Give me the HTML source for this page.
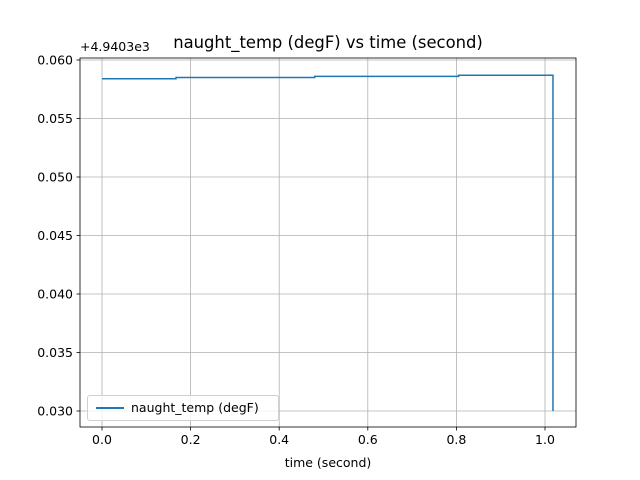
<!DOCTYPE html>
<html><head><meta charset="utf-8"><style>body{margin:0;background:#fff}svg{display:block;font-family:"DejaVu Sans","Liberation Sans",sans-serif}</style></head>
<body>
<svg id="c" width="640" height="480"></svg>
<script>
const xTicks=[0.0,0.2,0.4,0.6,0.8,1.0];
const xTickLabels=["0.0","0.2","0.4","0.6","0.8","1.0"];
const yTicks=[0.030,0.035,0.040,0.045,0.050,0.055,0.060];
const yTickLabels=["0.030","0.035","0.040","0.045","0.050","0.055","0.060"];
const times=[0,0.167,0.48,0.805,1.018,1.018];
const temps=[0.0584,0.0585,0.0586,0.0587,0.0587,0.030];
const NS="http://www.w3.org/2000/svg";
const svg=document.getElementById('c');
const L=80,R=576,T=58,B=427;
const xs=v=>102+v*443;
const ys=v=>60+(0.060-v)*11700;
function mk(t,a,p){const e=document.createElementNS(NS,t);for(const k in a)e.setAttribute(k,a[k]);(p||svg).appendChild(e);return e;}
mk('rect',{x:0,y:0,width:640,height:480,fill:'#fff'});
const grid=mk('g',{});


xTicks.forEach((v,i)=>{const x=xs(v);
 mk('line',{x1:x,x2:x,y1:T,y2:B,stroke:'#b0b0b0','stroke-width':0.8},grid);
 mk('line',{x1:x,x2:x,y1:B,y2:B+3.5,stroke:'#000','stroke-width':0.8});
 const t=mk('text',{x:x,y:B+17,'font-size':12.5,'text-anchor':'middle'});t.textContent=xTickLabels[i];
 
 });
yTicks.forEach((v,i)=>{const y=ys(v);
 mk('line',{x1:L,x2:R,y1:y,y2:y,stroke:'#b0b0b0','stroke-width':0.8},grid);
 mk('line',{x1:L-3.5,x2:L,y1:y,y2:y,stroke:'#000','stroke-width':0.8});
 const t=mk('text',{x:L-7,y:y+4.5,'font-size':12.5,'text-anchor':'end'});t.textContent=yTickLabels[i];
 
 });
let d='';
for(let i=0;i<times.length;i++){
 if(i===0)d+='M'+xs(times[0])+','+ys(temps[0]);
 else d+=' L'+xs(times[i])+','+ys(temps[i-1])+' L'+xs(times[i])+','+ys(temps[i]);
}
const ln=mk('path',{d:d,fill:'none',stroke:'#1f77b4','stroke-width':1.5});


const fr=mk('rect',{x:L,y:T,width:R-L,height:B-T,fill:'none',stroke:'#000','stroke-width':0.8});


</script>
<div style="position:absolute;left:0;top:0;width:640px;height:480px;font-family:'DejaVu Sans','Liberation Sans',sans-serif;pointer-events:none">
<div style="position:absolute;left:0;width:656px;top:33px;text-align:center;font-size:16.4px">naught_temp (degF) vs time (second)</div>
<div style="position:absolute;left:80px;top:39px;font-size:12.5px">+4.9403e3</div>
<div style="position:absolute;left:80px;width:496px;top:455px;text-align:center;font-size:12.5px">time (second)</div>
<div style="position:absolute;left:87px;top:395px;width:190px;height:24px;border:1px solid #d0d0d0;border-radius:3px;background:rgba(255,255,255,0.8)">
<div style="position:absolute;left:8px;top:11px;width:28px;height:2px;background:#1f77b4"></div>
<div style="position:absolute;left:43px;top:4px;font-size:12.5px">naught_temp (degF)</div>
</div>
</div>
</body></html>
